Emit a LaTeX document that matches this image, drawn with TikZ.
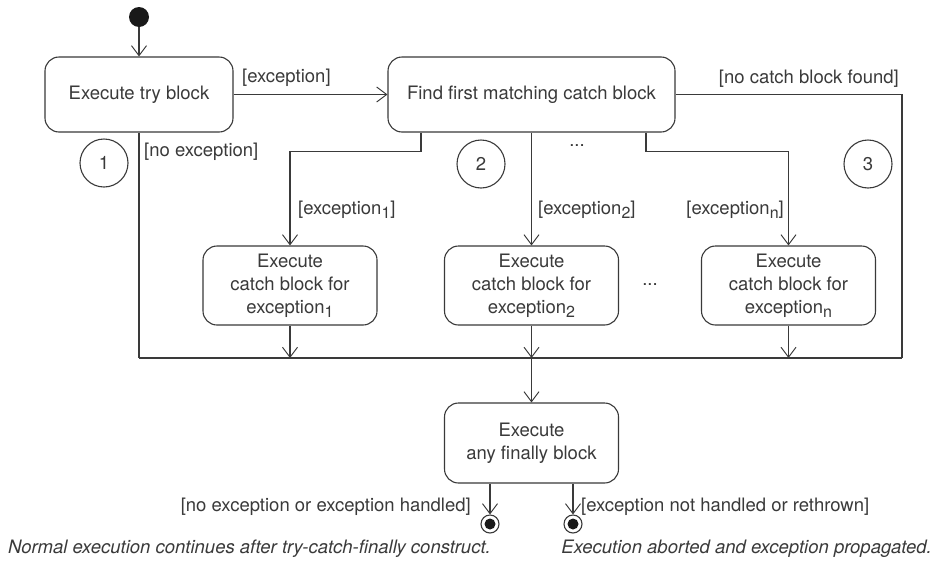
\documentclass[tikz,border=0pt]{standalone}
\usepackage{fontspec}
\setmainfont{TeX Gyre Heros}
\usetikzlibrary{arrows.meta}
\definecolor{ink}{HTML}{3A3A3A}
\definecolor{linec}{HTML}{3A3A3A}
\newcommand{\lsub}[1]{\raisebox{-0.4ex}{\fontsize{16}{16}\selectfont #1}}
\tikzset{
  state/.style={draw=linec, line width=1.1pt, rounded corners=14pt, align=center, inner sep=0pt, text=ink},
  catchbox/.style={state, minimum width=174pt, minimum height=79pt},
  conn/.style={draw=linec, line width=1.05pt},
  flow/.style={conn, -{Straight Barb[length=10pt,width=15pt,line width=0.95pt]}},
  num/.style={circle, draw=linec, line width=1.1pt, minimum size=48pt, inner sep=0pt, text=ink},
  lbl/.style={inner sep=0pt, text=ink},
  captext/.style={lbl, font=\fontsize{18.5}{22}\selectfont\itshape},
  enddot/.style={circle, draw=linec, line width=1.1pt, minimum size=18pt, inner sep=0pt},
  endcore/.style={circle, fill=black!90, minimum size=11pt, inner sep=0pt}
}
\begin{document}
\begin{tikzpicture}[x=1pt, y=-1pt, font=\fontsize{18.5}{23}\selectfont]
\useasboundingbox[fill=white] (0,0) rectangle (936,568);

% nodes
\node[circle, fill=black!90, minimum size=20pt, inner sep=0pt] (init) at (139,17) {};
\node[state, minimum width=188pt, minimum height=75pt] (try) at (139,94.5) {Execute try block};
\node[state, minimum width=287pt, minimum height=75pt] (find) at (531.5,94.5) {Find first matching catch block};
\node[catchbox] (c1) at (290,285.5) {Execute\\catch block for\\exception\lsub{1}};
\node[catchbox] (c2) at (531.5,285.5) {Execute\\catch block for\\exception\lsub{2}};
\node[catchbox] (cn) at (788.5,285.5) {Execute\\catch block for\\exception\lsub{n}};
\node[state, minimum width=174pt, minimum height=80pt] (fin) at (531.5,443) {Execute\\any finally block};
\node[enddot] (e1) at (490,524) {};
\node[endcore] (e1c) at (e1) {};
\node[enddot] (e2) at (573,524) {};
\node[endcore] (e2c) at (e2) {};

\node[num] (n1) at (104,163) {1};
\node[num] (n2) at (481,164) {2};
\node[num] (n3) at (868,164) {3};

% junction coordinates
\coordinate (jL) at (139,358);
\coordinate (jR) at (902,358);
\coordinate (j1) at (290,358);
\coordinate (j2) at (531.5,358);
\coordinate (jn) at (788.5,358);

% connectors
\draw[flow] (init) -- (try.north);
\draw[flow] (try.east) -- (find.west);
\draw[conn] (find.east) -| (jR);
\draw[conn] (try.south) -- (jL);
\draw[conn] (jL) -- (jR);
\draw[flow] ([xshift=-110.5pt]find.south) -- ++(0,19) -| (c1.north);
\draw[flow] (find.south) -- (c2.north);
\draw[flow] ([xshift=114.5pt]find.south) -- ++(0,19) -| (cn.north);
\draw[flow] (c1.south) -- (j1);
\draw[flow] (c2.south) -- (j2);
\draw[flow] (cn.south) -- (jn);
\draw[flow] (j2) -- (fin.north);
\draw[flow] ([xshift=-41.5pt]fin.south) -- (e1.north);
\draw[flow] ([xshift=41.5pt]fin.south) -- (e2.north);

% labels
\node[lbl, anchor=west] (lexc) at (242,78) {[exception]};
\node[lbl, anchor=east] (lnc) at (899,79) {[no catch block found]};
\node[lbl, anchor=west] (lne) at (144,152) {[no exception]};
\node[lbl, anchor=west] (le1) at (298,210) {[exception\lsub{1}]};
\node[lbl, anchor=west] (le2) at (538,210) {[exception\lsub{2}]};
\node[lbl, anchor=east] (len) at (784,210) {[exception\lsub{n}]};
\node[lbl] (dots1) at (577,146) {...};
\node[lbl] (dots2) at (650,285) {...};
\node[lbl, anchor=east] (lok) at (471,507) {[no exception or exception handled]};
\node[lbl, anchor=west] (lbad) at (581,507) {[exception not handled or rethrown]};
\node[captext, anchor=west] (cap1) at (8,549) {Normal execution continues after try-catch-finally construct.};
\node[captext, anchor=east] (cap2) at (932,549) {Execution aborted and exception propagated.};
\end{tikzpicture}
\end{document}
